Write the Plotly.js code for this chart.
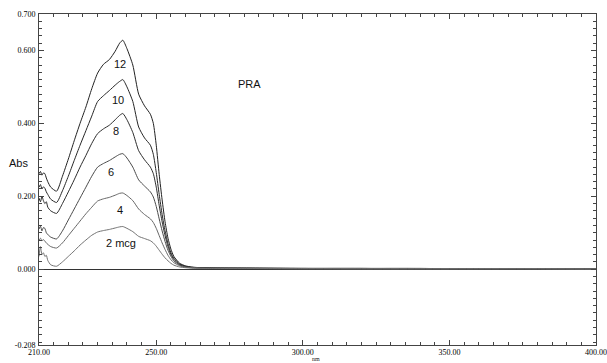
<!DOCTYPE html>
<html>
<head>
<meta charset="utf-8">
<script src="https://cdn.plot.ly/plotly-3.0.1.min.js"></script>
<style>html,body{margin:0;padding:0;background:#fff;}#chart{width:607px;height:363px;}</style>
</head>
<body>
<div id="chart"></div>
<script>
// wavelength grid (nm)
const wavelength = [210, 210.5, 211, 211.5, 212, 212.5, 213, 214, 216, 218, 220, 222, 224, 226, 228, 230, 232, 234, 236, 237.5, 238.6, 240, 242, 244, 246, 248, 249, 250, 251, 252, 253, 254, 255, 256, 258, 260, 262, 265, 270, 280, 300, 320, 340, 360, 380, 400];

// absorbance per concentration (mcg)
const abs12 = [0.262, 0.268, 0.258, 0.264, 0.262, 0.250, 0.240, 0.225, 0.214, 0.255, 0.302, 0.352, 0.400, 0.445, 0.495, 0.538, 0.562, 0.575, 0.598, 0.620, 0.628, 0.605, 0.560, 0.480, 0.448, 0.425, 0.400, 0.340, 0.260, 0.190, 0.130, 0.085, 0.055, 0.035, 0.016, 0.009, 0.006, 0.004, 0.003, 0.003, 0.002, 0.002, 0.002, 0.001, 0.001, 0.001];
const abs10 = [0.225, 0.232, 0.220, 0.226, 0.222, 0.212, 0.205, 0.192, 0.183, 0.215, 0.255, 0.298, 0.340, 0.380, 0.420, 0.460, 0.476, 0.490, 0.505, 0.515, 0.520, 0.500, 0.460, 0.390, 0.360, 0.340, 0.315, 0.265, 0.205, 0.150, 0.105, 0.070, 0.045, 0.030, 0.014, 0.008, 0.005, 0.004, 0.003, 0.003, 0.002, 0.002, 0.002, 0.001, 0.001, 0.001];
const abs8  = [0.195, 0.185, 0.200, 0.188, 0.180, 0.185, 0.170, 0.160, 0.153, 0.180, 0.212, 0.245, 0.280, 0.312, 0.345, 0.372, 0.385, 0.395, 0.410, 0.422, 0.427, 0.410, 0.375, 0.325, 0.300, 0.280, 0.262, 0.225, 0.175, 0.130, 0.092, 0.062, 0.040, 0.027, 0.012, 0.007, 0.005, 0.004, 0.003, 0.002, 0.002, 0.002, 0.001, 0.001, 0.001, 0.001];
const abs6  = [0.110, 0.118, 0.105, 0.114, 0.112, 0.100, 0.095, 0.088, 0.083, 0.105, 0.135, 0.165, 0.195, 0.225, 0.255, 0.280, 0.290, 0.298, 0.308, 0.315, 0.317, 0.305, 0.280, 0.245, 0.228, 0.212, 0.198, 0.172, 0.138, 0.105, 0.076, 0.052, 0.035, 0.023, 0.011, 0.006, 0.004, 0.003, 0.003, 0.002, 0.002, 0.002, 0.001, 0.001, 0.001, 0.001];
const abs4  = [0.080, 0.085, 0.078, 0.081, 0.077, 0.072, 0.068, 0.062, 0.058, 0.072, 0.092, 0.112, 0.132, 0.152, 0.170, 0.187, 0.193, 0.197, 0.203, 0.208, 0.209, 0.202, 0.188, 0.165, 0.150, 0.138, 0.128, 0.112, 0.092, 0.072, 0.054, 0.038, 0.026, 0.018, 0.009, 0.005, 0.004, 0.003, 0.002, 0.002, 0.002, 0.001, 0.001, 0.001, 0.001, 0.001];
const abs2  = [0.035, 0.062, 0.040, 0.045, 0.035, 0.038, 0.024, 0.012, 0.008, 0.020, 0.035, 0.050, 0.066, 0.080, 0.093, 0.102, 0.106, 0.109, 0.113, 0.116, 0.117, 0.112, 0.103, 0.090, 0.084, 0.078, 0.072, 0.063, 0.052, 0.041, 0.031, 0.023, 0.016, 0.011, 0.006, 0.004, 0.003, 0.002, 0.002, 0.002, 0.001, 0.001, 0.001, 0.001, 0.001, 0.000];

const seriesNames = ['12', '10', '8', '6', '4', '2 mcg'];
const xTickVals = [210, 250, 300, 350, 400];
const xTickText = ['210.00', '250.00', '300.00', '350.00', '400.00'];
const yTickVals = [-0.208, 0, 0.2, 0.4, 0.6, 0.7];
const yTickText = ['-0.208', '0.000', '0.200', '0.400', '0.600', '0.700'];

const allAbs = [abs12, abs10, abs8, abs6, abs4, abs2];
const colors = ['#222222', '#262626', '#2c2c2c', '#4a4a4a', '#666666', '#727272'];

const traces = allAbs.map((ys, i) => ({
  x: wavelength, y: ys, type: 'scatter', mode: 'lines', name: seriesNames[i],
  line: {color: colors[i], width: 1, shape: 'spline', smoothing: 0.6},
  hoverinfo: 'skip'
}));

const tickFont = {family: 'Liberation Serif, serif', size: 8, color: '#000'};
const lblFont = {family: 'Liberation Sans, Arial, sans-serif', size: 11, color: '#111'};

const labelPos = [[237.7, 0.564], [237.1, 0.464], [236.3, 0.378], [234.5, 0.266], [237.6, 0.161], [237.8, 0.072]];
const annotations = seriesNames.map((t, i) => ({
  x: labelPos[i][0], y: labelPos[i][1], xref: 'x', yref: 'y', text: t,
  xanchor: 'center', yanchor: 'middle', showarrow: false, font: lblFont
}));
annotations.push({x: 281.7, y: 0.508, xref: 'x', yref: 'y', text: 'PRA', xanchor: 'center', yanchor: 'middle', showarrow: false, font: lblFont});
annotations.push({x: -0.037, y: 0.551, xref: 'paper', yref: 'paper', text: 'Abs', xanchor: 'center', yanchor: 'middle', showarrow: false, font: lblFont});
annotations.push({x: 0.497, y: -0.043, xref: 'paper', yref: 'paper', text: 'nm', xanchor: 'center', yanchor: 'middle', showarrow: false, font: {family: 'Liberation Serif, serif', size: 6, color: '#222'}});

const layout = {
  width: 607, height: 363,
  margin: {l: 39, r: 11, t: 14, b: 18},
  paper_bgcolor: '#fff', plot_bgcolor: '#fff',
  showlegend: false,
  xaxis: {
    range: [210, 400], tickmode: 'array', tickvals: xTickVals, ticktext: xTickText,
    ticks: 'inside', ticklen: 5, tickcolor: '#444', tickwidth: 1,
    minor: {tickmode: 'linear', tick0: 210, dtick: 5, ticklen: 3, tickcolor: '#444', ticks: 'inside'},
    showline: true, linecolor: '#444', linewidth: 1, mirror: 'allticks',
    showgrid: false, zeroline: false, tickfont: tickFont, ticklabelstandoff: -1,
    ticklabeloverflow: 'allow'
  },
  yaxis: {
    range: [-0.208, 0.7], tickmode: 'array', tickvals: yTickVals, ticktext: yTickText,
    ticks: 'inside', ticklen: 5, tickcolor: '#444', tickwidth: 1,
    minor: {tickmode: 'linear', tick0: 0, dtick: 0.02, ticklen: 3, tickcolor: '#444', ticks: 'inside'},
    showline: true, linecolor: '#444', linewidth: 1, mirror: 'allticks',
    showgrid: false, zeroline: true, zerolinecolor: '#333', zerolinewidth: 1,
    tickfont: tickFont, ticklabelstandoff: 1
  },
  annotations: annotations
};

Plotly.newPlot('chart', traces, layout, {staticPlot: true, displayModeBar: false});
</script>
</body>
</html>
